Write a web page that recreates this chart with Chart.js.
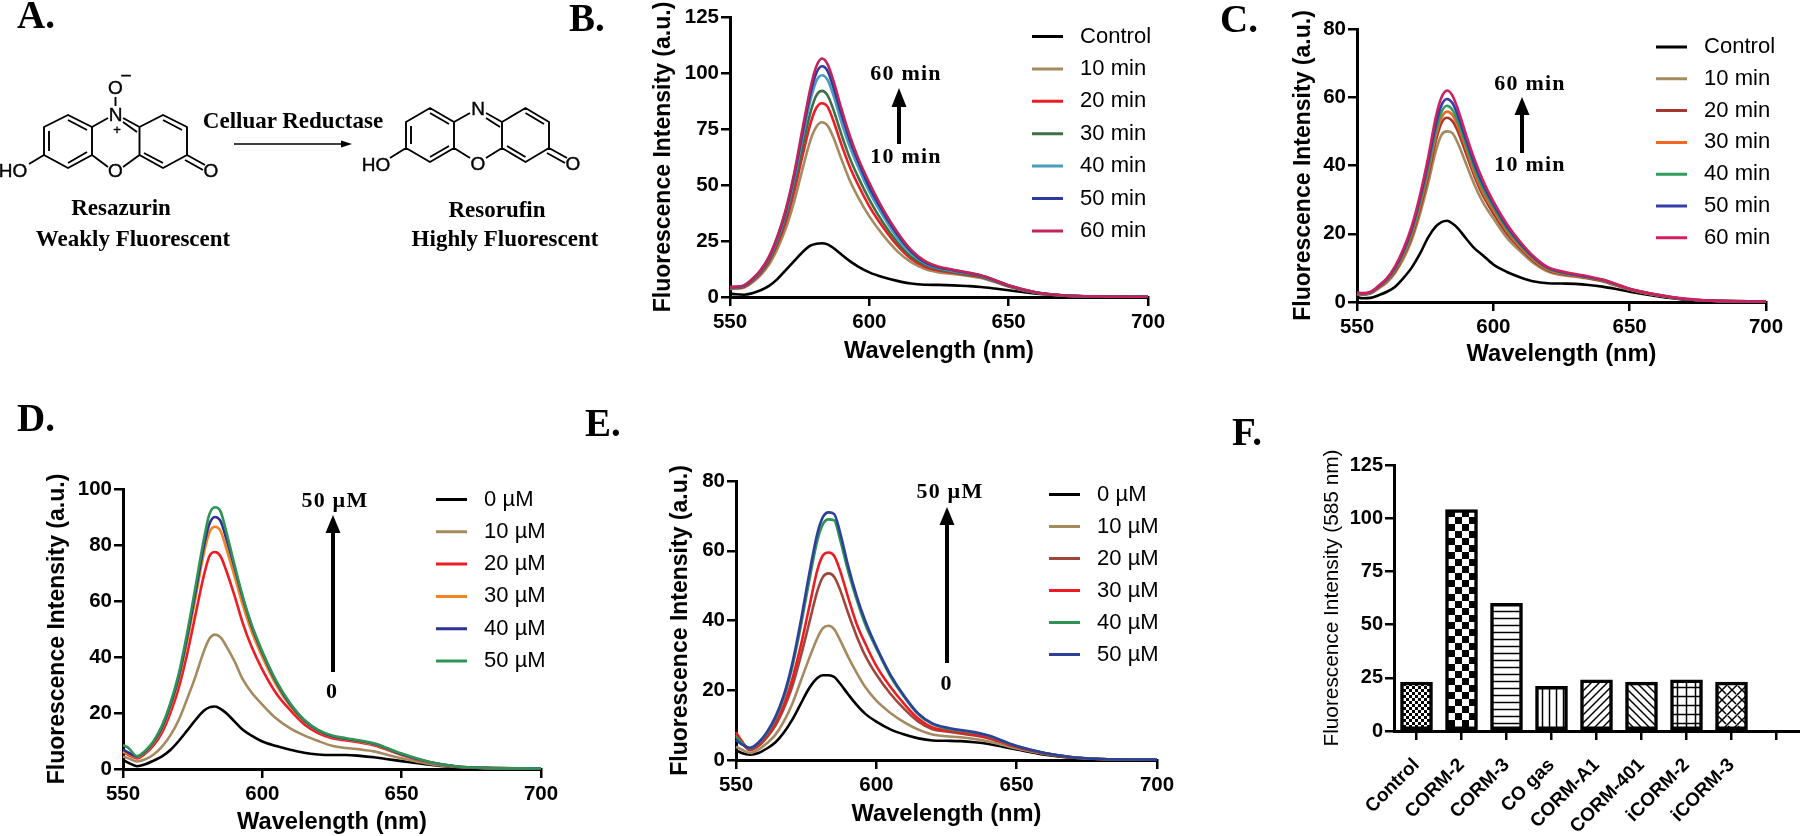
<!DOCTYPE html>
<html>
<head>
<meta charset="utf-8">
<title>Fluorescence panels</title>
<script src="https://cdn.jsdelivr.net/npm/chart.js@4"></script>
<style>
  html, body { margin: 0; background: #fff; width: 1800px; height: 836px; overflow: hidden; }
  canvas { position: absolute; }
  #notes { position: absolute; left: 0; top: 0; pointer-events: none; }
  #notes .serif { font-family: "Liberation Serif", serif; font-weight: bold; fill: #000; }
  #notes .atom { font-family: "Liberation Sans", sans-serif; font-size: 19px; fill: #000; stroke: #000; stroke-width: 0.4; text-anchor: middle; dominant-baseline: central; }
</style>
</head>
<body>
<canvas id="chartB"></canvas>
<canvas id="chartC"></canvas>
<canvas id="chartD"></canvas>
<canvas id="chartE"></canvas>
<canvas id="chartF"></canvas>

<svg id="notes" width="1800" height="836" xmlns="http://www.w3.org/2000/svg">
  <!-- panel letters -->
  <g class="serif" font-size="39">
    <text x="17" y="28" class="serif">A.</text>
    <text x="569" y="31" class="serif">B.</text>
    <text x="1220" y="32" class="serif">C.</text>
    <text x="17" y="431" class="serif">D.</text>
    <text x="585" y="436" class="serif">E.</text>
    <text x="1232" y="445" class="serif">F.</text>
  </g>

  <!-- panel A: resazurin -->
  <path fill="none" stroke="#000" stroke-width="1.9"
    d="M44 127L68 115L92 127L92 155L68 168L44 155Z
       M92 127L108 118 M92 155L108 167 M123 118L139.5 127 M123 167L139.5 155
       M139.5 127L139.5 155 M139.5 127L163 115L187 127L187 155L163 168L139.5 155
       M115.5 97L115.5 106 M44 155L29 164
       M187 155L205 165 M185 160L203 170
       M49 131L49 151 M68 120L87 130 M68 163L87 152
       M123 122L137 132 M163 120L182 130 M144 153L163 163"/>
  <text class="atom" x="115.5" y="87">O</text>
  <text class="atom" x="126" y="75" font-size="14">−</text>
  <text class="atom" x="115.5" y="114">N</text>
  <text class="atom" x="117" y="129" style="font-size:13px">+</text>
  <text class="atom" x="115.5" y="170">O</text>
  <text class="atom" x="13" y="170">HO</text>
  <text class="atom" x="211" y="170">O</text>

  <!-- panel A: arrow and resorufin -->
  <path fill="none" stroke="#000" stroke-width="1.5" d="M234 144L345 144"/>
  <path fill="#000" d="M352 144L341 140.5L341 147.5Z"/>
  <path fill="none" stroke="#000" stroke-width="1.9"
    d="M406 122L430 108L454 122L454 148L430 162L406 148Z
       M454 122L470 113 M454 148L470 158 M486 113L502 122 M486 158L502 148
       M502 122L502 148 M502 122L525.5 108L549 122L549 148L525.5 162L502 148
       M406 148L390 158
       M549 148L567 158 M547 153L565 163
       M411 126L411 144 M430 113L449 124 M430 157L449 146
       M486 118L500 127 M525.5 113L544 124 M507 146L525.5 157"/>
  <text class="atom" x="478" y="108">N</text>
  <text class="atom" x="478" y="163">O</text>
  <text class="atom" x="376" y="164">HO</text>
  <text class="atom" x="573" y="163">O</text>

  <g font-size="23" text-anchor="middle">
    <text class="serif" x="293" y="128">Celluar Reductase</text>
    <text class="serif" x="121" y="215">Resazurin</text>
    <text class="serif" x="133" y="246">Weakly Fluorescent</text>
    <text class="serif" x="497" y="217">Resorufin</text>
    <text class="serif" x="505" y="246">Highly Fluorescent</text>
  </g>

  <!-- trend arrows -->
  <path fill="#000" d="M899 88L906.5 107L901 107L901 144L897 144L897 107L891.5 107Z"/>
  <path fill="#000" d="M1522 97L1529.5 115L1524 115L1524 153L1520 153L1520 115L1514.5 115Z"/>
  <path fill="#000" d="M333 515L340.5 533L335 533L335 672L331 672L331 533L325.5 533Z"/>
  <path fill="#000" d="M947 507L954.5 525L949 525L949 663L945 663L945 525L939.5 525Z"/>
  <g font-size="22" text-anchor="middle" letter-spacing="1.2">
    <text class="serif" x="906" y="80">60 min</text>
    <text class="serif" x="906" y="163">10 min</text>
    <text class="serif" x="1530" y="90">60 min</text>
    <text class="serif" x="1530" y="171">10 min</text>
    <text class="serif" x="335" y="507">50 µM</text>
    <text class="serif" x="332" y="698">0</text>
    <text class="serif" x="950" y="498">50 µM</text>
    <text class="serif" x="946.5" y="690">0</text>
  </g>
</svg>

<script>
// Wavelength grid shared by all spectra (nm)
const wavelengths = [550, 552, 555, 558, 561, 564, 567, 570, 573, 576, 579, 581, 583, 585, 587, 590, 593, 596, 600, 605, 610, 615, 620, 625, 630, 635, 640, 645, 650, 660, 670, 680, 700];

// Panel B
const labelsB = ['Control', '10 min', '20 min', '30 min', '40 min', '50 min', '60 min'];
const colorsB = ['#000000', '#a58a5f', '#ed1c24', '#3f7044', '#4a9bc0', '#2b3a9c', '#c2245a'];
const bControl = [1.5, 1.2, 1, 1.7, 3, 5, 8, 12, 16, 20, 23, 23.8, 24, 23.5, 22, 19, 16, 13.6, 11, 8.8, 7.2, 6, 5.5, 5.4, 5.2, 4.9, 4.5, 3.8, 3, 1.5, 0.6, 0.2, 0];
const b10 = [3.6, 3.7, 4.2, 6.5, 9.8, 14.5, 21.5, 30.5, 42.5, 57, 70.5, 76, 78, 76.5, 71.5, 61.5, 52, 44.5, 36, 27.5, 20.5, 15.5, 12.5, 11, 10.3, 9.5, 8.5, 6.7, 4.6, 1.8, 0.6, 0.3, 0.1];
const b20 = [3.9, 4, 4.5, 7, 10.5, 15.8, 23.5, 33.5, 47, 63, 78, 84.5, 86.5, 85, 79, 68, 58, 50, 40.5, 31, 23, 17, 13.5, 11.8, 10.8, 9.9, 8.9, 7, 4.8, 1.9, 0.6, 0.3, 0.1];
const b30 = [4.1, 4.2, 4.7, 7.3, 11, 16.6, 24.8, 35.5, 50, 67, 83, 90, 92, 90, 84, 72.5, 62, 53.5, 43.5, 33, 24.5, 18, 14.3, 12.3, 11.2, 10.2, 9.1, 7.1, 4.9, 1.9, 0.6, 0.3, 0.1];
const b40 = [4.3, 4.4, 5, 7.6, 11.5, 17.3, 26, 37.3, 52.5, 71, 88.5, 96.5, 99, 97, 90.5, 78, 67, 58, 47, 36, 26.5, 19.5, 15, 12.8, 11.6, 10.6, 9.4, 7.3, 5, 2, 0.7, 0.3, 0.1];
const b50 = [4.4, 4.5, 5.1, 7.8, 11.8, 17.7, 26.6, 38.2, 54, 73, 91.5, 100, 103, 101, 94, 81.5, 70, 60.5, 49, 37.8, 28, 20.3, 15.5, 13.2, 12, 10.8, 9.6, 7.5, 5.1, 2, 0.7, 0.3, 0.1];
const b60 = [4.5, 4.6, 5.2, 8, 12, 18, 27, 39, 55, 75, 94, 103, 106.5, 104, 97, 84, 72, 62, 51, 39, 29, 21, 16, 13.5, 12.2, 11, 9.7, 7.6, 5.2, 2, 0.7, 0.3, 0.1];

// Panel C
const labelsC = ['Control', '10 min', '20 min', '30 min', '40 min', '50 min', '60 min'];
const colorsC = ['#000000', '#a58a5f', '#a5372f', '#f26522', '#2e9b5f', '#3040a8', '#d02060'];
const cControl = [1.5, 1.1, 1.2, 2, 3, 4.5, 7, 10, 14, 18.8, 22.2, 23.4, 23.8, 23, 21.6, 18.6, 15.8, 13.8, 11, 8.8, 7.2, 6, 5.5, 5.4, 5.3, 5, 4.5, 3.8, 3, 1.7, 0.7, 0.2, 0];
const c10 = [2.3, 2.1, 2.5, 4, 5.8, 8.6, 12.6, 18, 25.5, 34.5, 44.5, 49, 50, 49.5, 46.5, 40.5, 34.5, 29.5, 24.5, 18.8, 14.8, 11.3, 8.9, 7.9, 7.4, 6.8, 6, 4.8, 3.6, 2, 0.9, 0.4, 0.1];
const c20 = [2.4, 2.2, 2.6, 4.2, 6.1, 9, 13.4, 19, 27, 36.5, 47.5, 52.5, 54, 53, 50, 43.5, 37, 31.5, 26, 20, 15.6, 11.8, 9.3, 8.2, 7.6, 7, 6.2, 4.9, 3.7, 2, 0.9, 0.4, 0.1];
const c30 = [2.5, 2.3, 2.7, 4.3, 6.3, 9.4, 13.8, 19.7, 28, 37.8, 49, 54, 55.8, 54.8, 51.5, 45, 38, 32.5, 27, 20.8, 16, 12.2, 9.5, 8.4, 7.7, 7.1, 6.3, 5, 3.7, 2, 0.9, 0.4, 0.1];
const c40 = [2.6, 2.4, 2.8, 4.5, 6.5, 9.7, 14.3, 20.4, 28.9, 39, 50.5, 55.7, 57.5, 56.3, 52.8, 46, 39.2, 33.5, 27.8, 21.4, 16.5, 12.6, 9.8, 8.6, 7.9, 7.2, 6.4, 5.1, 3.8, 2.1, 0.9, 0.4, 0.1];
const c50 = [2.7, 2.5, 2.9, 4.6, 6.8, 10.1, 14.9, 21.2, 30, 40.5, 52.3, 57.7, 59.5, 58.3, 54.6, 47.5, 40.6, 34.8, 28.7, 22.1, 17, 12.9, 10, 8.8, 8, 7.3, 6.5, 5.2, 3.8, 2.1, 0.9, 0.4, 0.1];
const c60 = [2.8, 2.6, 3, 4.8, 7, 10.5, 15.5, 22, 31, 42, 54.5, 60, 62, 60.5, 56.5, 49, 42, 36, 29.5, 22.8, 17.5, 13.2, 10.2, 9, 8.2, 7.5, 6.6, 5.3, 3.9, 2.2, 1, 0.4, 0.1];

// Panel D
const labelsD = ['0 µM', '10 µM', '20 µM', '30 µM', '40 µM', '50 µM'];
const colorsD = ['#000000', '#a58a5f', '#ed1c24', '#f58220', '#2e3192', '#2e9455'];
const d0 = [3.3, 2.2, 1, 1.7, 3, 4.5, 6.8, 10, 13.7, 17.5, 20.8, 22, 22.3, 21.5, 20, 17, 14, 12, 9.8, 8.2, 6.9, 5.8, 5.2, 5, 5, 4.7, 4.2, 3.5, 2.8, 1.5, 0.5, 0.2, 0];
const d10 = [4.5, 3.8, 2.7, 3.5, 5.2, 8, 12, 17.5, 25, 33, 42, 46.5, 48, 47, 44, 38.5, 32, 27.5, 23, 18, 14.5, 12, 10, 8.3, 7.5, 7, 6.3, 5, 3.8, 1.8, 0.7, 0.3, 0.1];
const d20 = [6, 5, 3.8, 5.5, 8.5, 13, 20, 29, 41, 55, 69, 76, 77.5, 76, 71, 62, 52, 44, 35.5, 27, 21, 16, 12.8, 11, 10.2, 9.5, 8.5, 6.8, 5, 2.3, 0.8, 0.4, 0.2];
const d30 = [6.3, 5.3, 4.2, 6, 9.3, 14.3, 22, 32, 45.5, 61, 77, 84.5, 86.5, 85, 79, 69, 58.5, 49.5, 40, 30, 22.5, 17, 13.6, 11.5, 10.6, 9.8, 8.8, 7, 5.2, 2.4, 0.9, 0.4, 0.2];
const d40 = [7, 5.8, 4.4, 6.2, 9.6, 14.8, 22.8, 33, 47, 63, 79.5, 87.5, 90, 88.5, 82.5, 72, 61, 51.5, 41.5, 31, 23, 17.3, 13.8, 11.7, 10.8, 10, 9, 7.2, 5.3, 2.5, 0.9, 0.4, 0.2];
const d50 = [8.5, 7.5, 4.6, 6.5, 10, 15.5, 23.5, 34, 48.5, 65, 82, 91, 93.5, 92, 85, 73, 61.5, 52, 42, 31.5, 23.5, 17.6, 14, 12, 11, 10.2, 9.2, 7.4, 5.5, 2.5, 0.9, 0.4, 0.2];

// Panel E
const labelsE = ['0 µM', '10 µM', '20 µM', '30 µM', '40 µM', '50 µM'];
const colorsE = ['#000000', '#a58a5f', '#a0453a', '#ed1c24', '#2e9455', '#2e3f9c'];
const e0 = [2.8, 2, 1.5, 2, 3.3, 5, 7.8, 11.5, 16, 20.5, 23.5, 24.3, 24.3, 23.8, 22, 18.8, 15.8, 13.3, 11, 8.8, 7.3, 6.2, 5.6, 5.5, 5.4, 5.1, 4.6, 3.8, 3, 1.5, 0.6, 0.2, 0.1];
const e10 = [3.8, 3, 2, 3, 4.8, 7.2, 11, 16, 22.5, 29, 35, 37.8, 38.5, 37.5, 34.5, 29.5, 25, 21, 17, 13.5, 10.8, 8.7, 7.3, 6.8, 6.5, 6, 5.3, 4.3, 3.3, 1.7, 0.7, 0.3, 0.1];
const e20 = [7.3, 5, 2.8, 4, 6.5, 9.8, 14.7, 21, 29.5, 39, 48.5, 52.5, 53.5, 52.5, 49, 42, 35.5, 30, 24.5, 19, 14.6, 11, 8.8, 8.2, 7.6, 7, 6.2, 5, 3.7, 1.9, 0.7, 0.3, 0.1];
const e30 = [8, 5.5, 3, 4.3, 6.9, 10.5, 15.7, 23, 32.5, 43.5, 54.5, 58.7, 59.5, 58.5, 54.5, 46.5, 39, 33.5, 27, 21, 16, 11.8, 9.3, 8.5, 8, 7.3, 6.4, 5.1, 3.8, 1.9, 0.8, 0.3, 0.1];
const e40 = [6.8, 5, 3.3, 4.8, 7.6, 11.8, 17.8, 26.5, 38, 51, 63, 67.7, 69, 68.7, 63.5, 54, 46, 39, 32, 24, 18, 13, 10.3, 9, 8.4, 7.8, 6.9, 5.4, 4, 2, 0.8, 0.3, 0.1];
const e50 = [5.8, 4.5, 3.5, 5, 8, 12.3, 18.5, 27.5, 39.5, 53, 65, 69.7, 71, 70.5, 65.5, 55.5, 47, 40, 32.5, 24.5, 18.3, 13.3, 10.5, 9.3, 8.6, 8, 7, 5.5, 4, 2, 0.8, 0.3, 0.1];

// Panel F
const barLabels = ['Control', 'CORM-2', 'CORM-3', 'CO gas', 'CORM-A1', 'CORM-401', 'iCORM-2', 'iCORM-3', ''];
const barValues = [23, 104, 60, 21, 24, 23, 24, 23, null];
const barFills = ['dots', 'checker', 'rows', 'cols', 'slash', 'backslash', 'grid', 'weave', 'dots'];

Chart.defaults.font.family = '"Liberation Sans", Arial, sans-serif';
Chart.defaults.color = '#000';
Chart.defaults.animation = false;

// Puts the canvas on the page, returns the padding that pins the plot area
function placeCanvas(id, box, plot) {
  const canvas = document.getElementById(id);
  canvas.width = box.right - box.left;
  canvas.height = box.bottom - box.top;
  canvas.style.left = box.left + 'px';
  canvas.style.top = box.top + 'px';
  return {
    canvas,
    padding: { left: 0, bottom: 0, top: plot.top - box.top, right: box.right - plot.right },
    yWidth: plot.left - box.left,
    xHeight: box.bottom - plot.bottom
  };
}

function axisStyle(extra) {
  return Object.assign({
    border: { color: '#000', width: 3 },
    grid: { drawOnChartArea: false, color: '#000', lineWidth: 2.5, tickLength: 9 }
  }, extra);
}

function spectrumChart(id, box, plot, yMax, yStep, labels, colors, series, legendSpot) {
  const spot = placeCanvas(id, box, plot);
  const legendFont = 22;
  const legendPad = legendSpot.pitch - legendFont;
  return new Chart(spot.canvas, {
    type: 'line',
    data: {
      labels: wavelengths,
      datasets: series.map((values, i) => ({
        label: labels[i],
        data: values,
        borderColor: colors[i],
        backgroundColor: colors[i],
        borderWidth: 2.6,
        pointRadius: 0,
        fill: false,
        clip: false,
        cubicInterpolationMode: 'monotone',
        order: -i
      }))
    },
    options: {
      responsive: false,
      maintainAspectRatio: false,
      layout: { padding: spot.padding },
      plugins: {
        tooltip: { enabled: false },
        legend: {
          position: 'chartArea',
          align: 'start',
          labels: {
            boxWidth: 31,
            boxHeight: 3,
            padding: legendPad,
            font: { size: legendFont },
            sort: (a, b) => a.datasetIndex - b.datasetIndex,
            generateLabels: chart => Chart.defaults.plugins.legend.labels.generateLabels(chart)
              .map(item => Object.assign(item, { text: ' ' + item.text, lineWidth: 0 }))
          }
        }
      },
      scales: {
        x: axisStyle({
          type: 'linear',
          min: 550,
          max: 700,
          ticks: { stepSize: 50, padding: 4, maxRotation: 0, font: { size: 20.5, weight: 'bold' } },
          title: { display: true, text: 'Wavelength (nm)', padding: 0, font: { size: 23.7, weight: 'bold', lineHeight: 1 } },
          afterFit: scale => { scale.height = spot.xHeight; }
        }),
        y: axisStyle({
          min: 0,
          max: yMax,
          ticks: { stepSize: yStep, padding: 2, font: { size: 20.5, weight: 'bold' } },
          title: { display: true, text: 'Fluorescence Intensity (a.u.)', padding: 0, font: { size: 23, weight: 'bold', lineHeight: 1 } },
          afterFit: scale => { scale.width = spot.yWidth; }
        })
      }
    },
    plugins: [{
      id: 'legendSpot',
      beforeDraw(chart) {
        const legend = chart.legend;
        legend.left = legendSpot.x - box.left - legendPad;
        legend.top = legendSpot.y - box.top - legendFont / 2 - legendPad;
        legend.right = legend.left + 200;
        legend.bottom = spot.canvas.height + 400;
      }
    }]
  });
}

// Small black on white tiles for the bars in panel F
function barPattern(kind) {
  const size = { dots: 6, checker: 14, rows: 7, cols: 7, slash: 8, backslash: 8, grid: 9, weave: 10 }[kind];
  const tile = document.createElement('canvas');
  tile.width = tile.height = size;
  const g = tile.getContext('2d');
  g.fillStyle = '#fff';
  g.fillRect(0, 0, size, size);
  g.fillStyle = '#000';
  g.strokeStyle = '#000';
  g.lineWidth = 1.5;
  const line = (x1, y1, x2, y2) => { g.beginPath(); g.moveTo(x1, y1); g.lineTo(x2, y2); g.stroke(); };
  if (kind === 'dots') {
    g.fillRect(0, 0, 3, 3);
    g.fillRect(3, 3, 3, 3);
  } else if (kind === 'checker') {
    g.fillRect(0, 0, 7, 7);
    g.fillRect(7, 7, 7, 7);
  } else if (kind === 'rows') {
    line(0, 3.5, size, 3.5);
  } else if (kind === 'cols') {
    line(3.5, 0, 3.5, size);
  } else if (kind === 'slash') {
    line(-1, size + 1, size + 1, -1);
    line(-1, 1, 1, -1);
    line(size - 1, size + 1, size + 1, size - 1);
  } else if (kind === 'backslash') {
    line(-1, -1, size + 1, size + 1);
    line(size - 1, -1, size + 1, 1);
    line(-1, size - 1, 1, size + 1);
  } else if (kind === 'grid') {
    line(0, 4.5, size, 4.5);
    line(4.5, 0, 4.5, size);
  } else {
    line(-1, size + 1, size + 1, -1);
    line(-1, 1, 1, -1);
    line(size - 1, size + 1, size + 1, size - 1);
    line(0, 0, 4, 4);
    line(6, 6, 10, 10);
  }
  return g.createPattern(tile, 'repeat');
}

spectrumChart('chartB',
  { left: 652, top: 0, right: 1180, bottom: 363 },
  { left: 730, top: 17, right: 1148, bottom: 297 },
  125, 25, labelsB, colorsB, [bControl, b10, b20, b30, b40, b50, b60],
  { x: 1032, y: 36.5, pitch: 32.4 });

spectrumChart('chartC',
  { left: 1292, top: 8, right: 1800, bottom: 366 },
  { left: 1357, top: 29, right: 1766, bottom: 302 },
  80, 20, labelsC, colorsC, [cControl, c10, c20, c30, c40, c50, c60],
  { x: 1656, y: 47, pitch: 31.8 });

spectrumChart('chartD',
  { left: 46, top: 470, right: 570, bottom: 834 },
  { left: 123, top: 489, right: 541, bottom: 769 },
  100, 20, labelsD, colorsD, [d0, d10, d20, d30, d40, d50],
  { x: 436, y: 499.5, pitch: 32.3 });

spectrumChart('chartE',
  { left: 669, top: 465, right: 1185, bottom: 826 },
  { left: 736, top: 481, right: 1157, bottom: 760 },
  80, 20, labelsE, colorsE, [e0, e10, e20, e30, e40, e50],
  { x: 1049, y: 494.5, pitch: 32 });

// Bar panel
const spotF = placeCanvas('chartF',
  { left: 1322, top: 440, right: 1800, bottom: 836 },
  { left: 1394, top: 465, right: 1799, bottom: 731 });

new Chart(spotF.canvas, {
  type: 'bar',
  data: {
    labels: barLabels,
    datasets: [{
      label: 'Fluorescence Intensity (585 nm)',
      data: barValues,
      backgroundColor: barFills.map(barPattern),
      borderColor: '#000',
      borderWidth: 3.5,
      borderSkipped: false,
      barThickness: 32
    }]
  },
  options: {
    responsive: false,
    maintainAspectRatio: false,
    layout: { padding: spotF.padding },
    plugins: { legend: { display: false }, tooltip: { enabled: false } },
    scales: {
      x: axisStyle({
        grid: { offset: false, drawOnChartArea: false, color: '#000', lineWidth: 2.5, tickLength: 9 },
        ticks: { autoSkip: false, minRotation: 45, maxRotation: 45, padding: 14, font: { size: 19, weight: 'bold' } },
        // large tick padding must not eat into the plot width
        afterFit: scale => { scale.height = spotF.xHeight; scale.paddingLeft = 0; scale.paddingRight = 0; }
      }),
      y: axisStyle({
        min: 0,
        max: 125,
        ticks: { stepSize: 25, padding: 2, font: { size: 20, weight: 'bold' } },
        title: { display: true, text: 'Fluorescence Intensity (585 nm)', padding: 0, font: { size: 20.8, lineHeight: 1 } },
        afterFit: scale => { scale.width = spotF.yWidth; }
      })
    }
  }
});
</script>
</body>
</html>
